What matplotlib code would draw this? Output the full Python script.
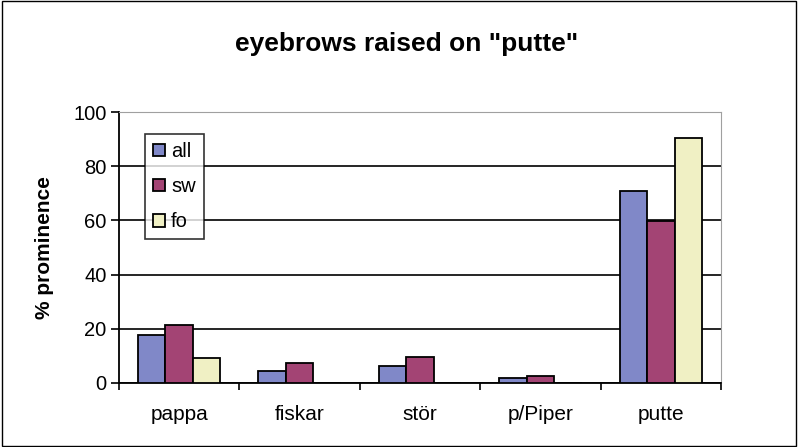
import matplotlib.pyplot as plt
import numpy as np

plt.rcParams['font.family'] = ['Liberation Sans', 'DejaVu Sans']

categories = ["pappa", "fiskar", "stör", "p/Piper", "putte"]
all_vals = [17.7, 4.5, 6.3, 2.0, 70.8]
sw_vals = [21.4, 7.5, 9.6, 2.6, 59.8]
fo_vals = [9.3, 0, 0, 0, 90.5]
series = [("all", all_vals, "#8088c8"), ("sw", sw_vals, "#a34474"), ("fo", fo_vals, "#f0f0c4")]

fig = plt.figure(figsize=(7.98, 4.47), dpi=100)
# outer chart border
fig.patches.append(plt.Rectangle((0.003, 0.003), 0.994, 0.994, transform=fig.transFigure,
                                 fill=False, edgecolor="black", linewidth=1))
ax = fig.add_axes([119 / 798, 1 - 383 / 447, (721 - 119) / 798, (383 - 112) / 447])

x = np.arange(len(categories))
w = 0.228
for i, (name, vals, col) in enumerate(series):
    ax.bar(x + (i - 1) * w, vals, w, color=col, edgecolor="black", linewidth=1.3,
           label=name, zorder=3)

ax.set_xlim(-0.5, len(categories) - 0.5)
ax.set_ylim(0, 100)
ax.set_yticks(range(0, 101, 20))
ax.yaxis.grid(True, color="black", linewidth=1.2, zorder=0)
ax.set_xticks(x)
ax.set_xticklabels(categories, fontsize=15)
ax.set_xticks(np.arange(-0.5, len(categories)), minor=True)
ax.tick_params(axis="x", which="major", length=0, pad=16)
ax.tick_params(axis="x", which="minor", length=5, width=1.2, direction="out")
ax.tick_params(axis="y", labelsize=14.5, length=6, width=1.2, direction="out", pad=3)

ax.spines["left"].set_linewidth(1.3)
ax.spines["bottom"].set_linewidth(1.3)
ax.spines["top"].set_color("#a0a0a0")
ax.spines["right"].set_color("#a0a0a0")

ax.set_ylabel("% prominence", fontsize=15, fontweight="bold", labelpad=14)
fig.text(407 / 798, 1 - 44 / 447, 'eyebrows raised on "putte"', ha="center", va="center",
         fontsize=19, fontweight="bold")

leg = ax.legend(loc="upper left", bbox_to_anchor=(26 / 602, 1 - 22 / 271), fontsize=14.5,
                frameon=True, fancybox=False, edgecolor="black", handlelength=0.6,
                handleheight=0.6, handletextpad=0.3, labelspacing=0.8, borderpad=0.4,
                borderaxespad=0)
leg.get_frame().set_linewidth(1.2)

fig.savefig("out.png", dpi=100)
